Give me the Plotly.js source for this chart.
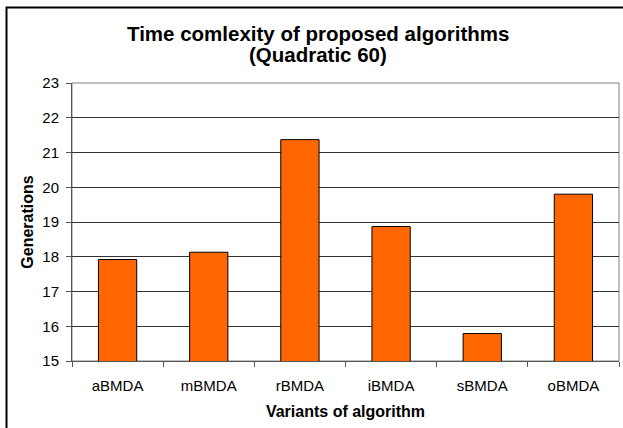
<!DOCTYPE html>
<html>
<head>
<meta charset="utf-8">
<script src="https://cdn.plot.ly/plotly-3.0.1.min.js"></script>
<style>html,body{margin:0;padding:0;background:#fff;}#chart{width:623px;height:428px;}</style>
</head>
<body>
<div id="chart"></div>
<script>
var categories = ["aBMDA", "mBMDA", "rBMDA", "iBMDA", "sBMDA", "oBMDA"];
var generations = [17.92, 18.13, 21.37, 18.87, 15.79, 19.8];
var yTicks = [15, 16, 17, 18, 19, 20, 21, 22, 23];
var titleLines = ["Time comlexity of proposed algorithms", "(Quadratic 60)"];

var W = 623, H = 428;
var L = 72, R = 4, T = 83, B = 67;
var pw = W - L - R, ph = H - T - B;
function px2x(p){ return (p - L) / pw; }
function py2y(p){ return (H - B - p) / ph; }

var trace = {
  type: 'bar',
  x: categories,
  y: generations,
  marker: {color: '#FF6600', line: {color: '#000000', width: 1}},
  hoverinfo: 'x+y'
};

var layout = {
  width: W, height: H,
  margin: {l: L, r: R, t: T, b: B, pad: 0},
  paper_bgcolor: '#ffffff',
  plot_bgcolor: '#ffffff',
  showlegend: false,
  bargap: 0.58,
  font: {family: 'Liberation Sans, Arial, sans-serif', color: '#000', size: 15},
  xaxis: {
    type: 'category',
    showline: true, linecolor: '#555555', linewidth: 1,
    ticks: 'outside', tickson: 'boundaries', ticklen: 5, tickcolor: '#555555',
    ticklabelstandoff: 11,
    showgrid: false, zeroline: false,
    tickfont: {size: 15},
    title: {text: 'Variants of algorithm', font: {size: 16, family: 'Liberation Sans, Arial, sans-serif', weight: 'bold'}, standoff: 12},
    automargin: false
  },
  yaxis: {
    range: [15, 23],
    tickvals: yTicks,
    showline: true, linecolor: '#555555', linewidth: 1,
    ticks: 'outside', ticklen: 5, tickcolor: '#555555',
    ticklabelstandoff: 4,
    showgrid: true, gridcolor: '#333333', gridwidth: 1,
    zeroline: false,
    tickfont: {size: 15},
    title: {text: 'Generations', font: {size: 16, family: 'Liberation Sans, Arial, sans-serif', weight: 'bold'}, standoff: 4},
    automargin: false
  },
  annotations: [
    {text: '<b>' + titleLines[0] + '</b>', xref: 'paper', yref: 'paper', x: px2x(318), y: py2y(34), xanchor: 'center', yanchor: 'middle', showarrow: false, font: {size: 20.5}},
    {text: '<b>' + titleLines[1] + '</b>', xref: 'paper', yref: 'paper', x: px2x(318), y: py2y(55), xanchor: 'center', yanchor: 'middle', showarrow: false, font: {size: 20.5}}
  ],
  shapes: [
    {type: 'rect', xref: 'paper', yref: 'paper', x0: 0, x1: 1, y0: 0, y1: 1, line: {color: '#808080', width: 1}, layer: 'below'},
    {type: 'rect', xref: 'paper', yref: 'paper', x0: px2x(6.5), x1: px2x(640), y0: py2y(450), y1: py2y(7.5), line: {color: '#000000', width: 2}}
  ]
};

Plotly.newPlot('chart', [trace], layout, {staticPlot: true, displayModeBar: false});
</script>
</body>
</html>
